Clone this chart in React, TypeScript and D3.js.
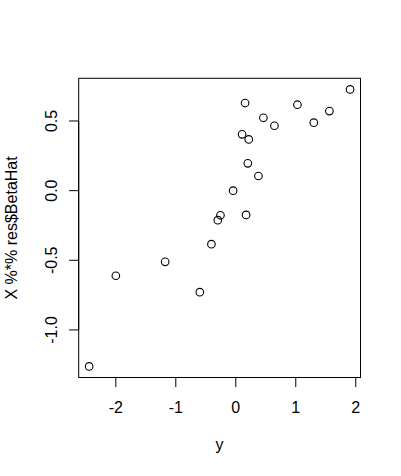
import React from "react";
import * as d3 from "d3";

const xValues = [1.905, 0.155, 1.027, 1.56, 0.46, 0.644, 1.3, 0.105, 0.216, 0.2, 0.377, -0.045, -0.256, -0.3, 0.172, -0.406, -1.178, -2.0, -0.6, -2.445];
const yValues = [0.727, 0.629, 0.617, 0.571, 0.523, 0.466, 0.488, 0.404, 0.368, 0.196, 0.105, 0.0, -0.177, -0.212, -0.174, -0.384, -0.511, -0.611, -0.729, -1.262];
const xTicks = [-2, -1, 0, 1, 2];
const yTicks = [-1.0, -0.5, 0.0, 0.5];
const xLabel = "y";
const yLabel = "X %*% res$BetaHat";

function rExtent(vals: number[]): [number, number] {
  const [lo, hi] = d3.extent(vals) as [number, number];
  const pad = (hi - lo) * 0.04;
  return [lo - pad, hi + pad];
}

export default function App() {
  const W = 401, H = 476;
  const left = 78.7, right = 360.5, top = 78.3, bottom = 377.5;
  const x = d3.scaleLinear().domain(rExtent(xValues)).range([left, right]);
  const y = d3.scaleLinear().domain(rExtent(yValues)).range([bottom, top]);
  const font = "Liberation Sans, Arial, Helvetica, sans-serif";
  const fs = 16;
  const tickLen = 9.6;
  return (
    <svg width={W} height={H} style={{ position: "absolute", left: 0, top: 0, background: "white" }}>
      <rect x={0} y={0} width={W} height={H} fill="white" />
      <rect x={left} y={top} width={right - left} height={bottom - top} fill="none" stroke="black" strokeWidth={1} />
      {/* x axis */}
      <line x1={x(xTicks[0])} x2={x(xTicks[xTicks.length - 1])} y1={bottom} y2={bottom} stroke="black" />
      {xTicks.map((t) => (
        <g key={"xt" + t}>
          <line x1={x(t)} x2={x(t)} y1={bottom} y2={bottom + tickLen} stroke="black" />
          <text x={x(t)} y={413.3} textAnchor="middle" fontFamily={font} fontSize={fs}>
            {String(t)}
          </text>
        </g>
      ))}
      {/* y axis */}
      <line x1={left} x2={left} y1={y(yTicks[0])} y2={y(yTicks[yTicks.length - 1])} stroke="black" />
      {yTicks.map((t) => (
        <g key={"yt" + t}>
          <line x1={left - tickLen} x2={left} y1={y(t)} y2={y(t)} stroke="black" />
          <text
            transform={`translate(${57},${y(t)}) rotate(-90)`}
            textAnchor="middle"
            fontFamily={font}
            fontSize={fs}
          >
            {t.toFixed(1)}
          </text>
        </g>
      ))}
      {/* labels */}
      <text x={(left + right) / 2} y={450} textAnchor="middle" fontFamily={font} fontSize={fs}>
        {xLabel}
      </text>
      <text
        transform={`translate(${17},${(top + bottom) / 2}) rotate(-90)`}
        textAnchor="middle"
        fontFamily={font}
        fontSize={fs}
      >
        {yLabel}
      </text>
      {/* points */}
      {xValues.map((v, i) => (
        <circle key={i} cx={x(v)} cy={y(yValues[i])} r={3.8} fill="none" stroke="black" strokeWidth={1.1} />
      ))}
    </svg>
  );
}
